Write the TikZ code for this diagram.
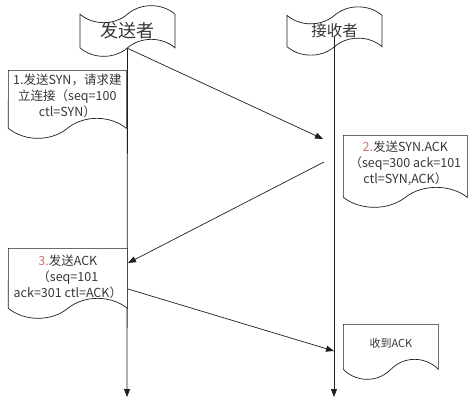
\documentclass[tikz,border=0pt]{standalone}
\usepackage{fontspec}
\usepackage{xcolor}
\usepackage{tikz}
\usetikzlibrary{shapes.symbols, arrows.meta, positioning}
\newfontfamily\cjk{Noto Sans CJK SC}
\definecolor{mydark}{RGB}{30,30,30}
\definecolor{mytext}{RGB}{55,55,55}
\definecolor{numred}{RGB}{205,120,110}
\tikzset{
  flag/.style={tape, draw=mydark, fill=white, minimum width=95pt,
    minimum height=44pt, tape bend height=17pt, line width=0.7pt,
    inner sep=0pt, text=mytext},
  note/.style={tape, tape bend top=none, draw=mydark, fill=white,
    tape bend height=20pt, line width=0.7pt, inner sep=0pt},
  notetext/.style={align=center, text=mytext, inner sep=0pt,
    font=\cjk\fontsize{12.5}{16}\selectfont},
  life/.style={-{Triangle[length=8pt, width=6pt]}, line width=0.8pt, color=mydark},
  msg/.style={-{Triangle[length=8pt, width=6pt]}, line width=0.7pt, color=mydark}
}

\begin{document}
\begin{tikzpicture}[x=1pt, y=-1pt]
  \useasboundingbox[fill=white] (0,0) rectangle (472,407);

  \node[flag, font=\cjk\fontsize{18}{18}\selectfont] (snd) at (127.5,31) {发送者};
  \node[flag, font=\cjk\fontsize{15.5}{15.5}\selectfont] (rcv) at (334.5,31) {接收者};

  \coordinate (sEnd) at (127,397);
  \coordinate (rTop) at (334,37);
  \coordinate (rEnd) at (334,397);
  \draw[life] (snd.south) -- (sEnd);
  \draw[life] (rTop) -- (rEnd);

  \node[note, minimum width=118pt, minimum height=68pt, anchor=north west] (n1) at (8,70) {};
  \node[notetext, below=4pt of n1.north] (t1) {1.发送SYN，请求建\\立连接（seq=100\\ctl=SYN）};

  \node[note, minimum width=124pt, minimum height=72pt, anchor=north west] (n2) at (343,135) {};
  \node[notetext, below=6pt of n2.north] (t2) {{\color{numred}2.}发送SYN.ACK\\（seq=300 ack=101\\ctl=SYN,ACK）};

  \node[note, minimum width=119pt, minimum height=70pt, anchor=north west] (n3) at (8,248) {};
  \node[notetext, below=7pt of n3.north] (t3) {{\color{numred}3.}发送ACK\\（seq=101\\ack=301 ctl=ACK）};

  \node[note, minimum width=95pt, minimum height=55pt, anchor=north west] (n4) at (343,324) {};
  \node[notetext, font=\cjk\fontsize{11}{14}\selectfont, below=14pt of n4.north] (t4) {收到ACK};

  \coordinate (a1e) at (323,139);
  \coordinate (a2s) at (324,162);
  \coordinate (a2e) at (128,263);
  \coordinate (a3s) at (128,289);
  \coordinate (a3e) at (334,351);
  \draw[msg] (snd.south) -- (a1e);
  \draw[msg] (a2s) -- (a2e);
  \draw[msg] (a3s) -- (a3e);
\end{tikzpicture}
\end{document}
